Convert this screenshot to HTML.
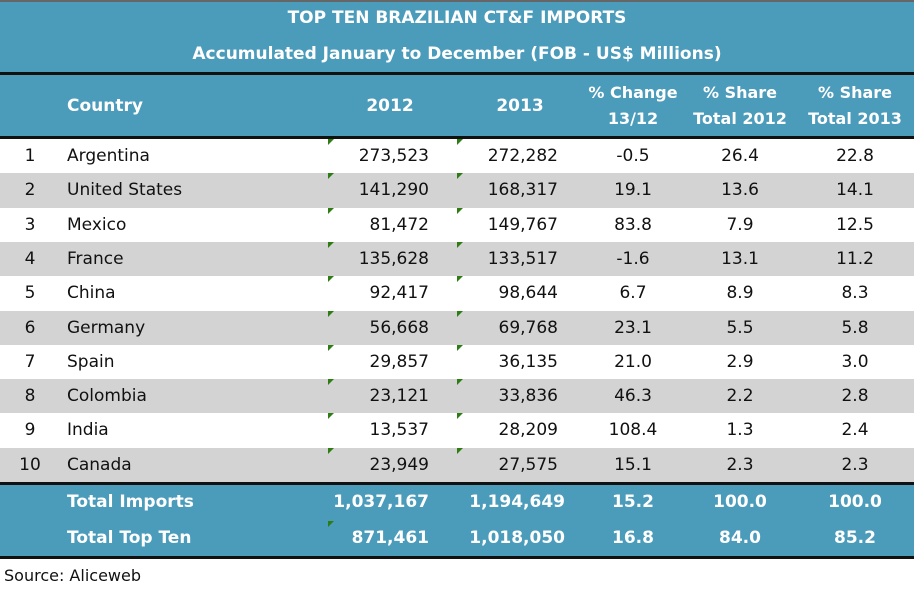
<!DOCTYPE html>
<html><head><meta charset="utf-8"><style>
body{margin:0;width:914px;height:593px;background:#fff;font-family:"DejaVu Sans","Liberation Sans",sans-serif;position:relative;overflow:hidden}
div{position:absolute;box-sizing:border-box}
.c{text-align:center}
.r{text-align:right}
.row{left:0;width:914px;height:34.3px;font-size:17px;color:#111;line-height:34px}
.t{color:#fff !important;font-weight:bold}
.tri{width:0;height:0;border-top:6px solid #2e7d13;border-right:6px solid transparent}
</style></head><body>
<div style="left:0;top:0;width:914px;height:2px;background:#666"></div>
<div style="left:0;top:2px;width:914px;height:72px;background:#4b9bbb"></div>
<div class="t c" style="left:0;top:8px;width:914px;font-size:17px">TOP TEN BRAZILIAN CT&amp;F IMPORTS</div>
<div class="t c" style="left:0;top:44px;width:914px;font-size:17px">Accumulated January to December (FOB - US$ Millions)</div>
<div style="left:0;top:72px;width:914px;height:3px;background:#111"></div>
<div style="left:0;top:75px;width:914px;height:62px;background:#4b9bbb"></div>
<div class="t" style="left:67px;top:96px;font-size:17px">Country</div>
<div class="t c" style="left:340px;top:96px;width:100px;font-size:17px">2012</div>
<div class="t c" style="left:470px;top:96px;width:100px;font-size:17px">2013</div>
<div class="t c" style="left:573px;top:80px;width:120px;font-size:16px;line-height:26px">% Change<br>13/12</div>
<div class="t c" style="left:680px;top:80px;width:120px;font-size:16px;line-height:26px">% Share<br>Total 2012</div>
<div class="t c" style="left:795px;top:80px;width:120px;font-size:16px;line-height:26px">% Share<br>Total 2013</div>
<div style="left:0;top:136px;width:914px;height:3px;background:#111"></div>
<div id="rows"></div>
<script>
var d=[["1","Argentina","273,523","272,282","-0.5","26.4","22.8"],["2","United States","141,290","168,317","19.1","13.6","14.1"],["3","Mexico","81,472","149,767","83.8","7.9","12.5"],["4","France","135,628","133,517","-1.6","13.1","11.2"],["5","China","92,417","98,644","6.7","8.9","8.3"],["6","Germany","56,668","69,768","23.1","5.5","5.8"],["7","Spain","29,857","36,135","21.0","2.9","3.0"],["8","Colombia","23,121","33,836","46.3","2.2","2.8"],["9","India","13,537","28,209","108.4","1.3","2.4"],["10","Canada","23,949","27,575","15.1","2.3","2.3"]];
var h="";
d.forEach(function(r,i){var y=139+i*34.3;
h+='<div class="row" style="top:'+y+'px;background:'+(i%2?'#d3d3d3':'#fff')+'">'+
'<div class="c" style="left:10px;width:40px">'+r[0]+'</div>'+
'<div style="left:67px">'+r[1]+'</div>'+
'<div class="r" style="left:300px;width:129px">'+r[2]+'</div>'+
'<div class="r" style="left:430px;width:128px">'+r[3]+'</div>'+
'<div class="c" style="left:573px;width:120px">'+r[4]+'</div>'+
'<div class="c" style="left:680px;width:120px">'+r[5]+'</div>'+
'<div class="c" style="left:795px;width:120px">'+r[6]+'</div>'+
'<div class="tri" style="left:328px;top:0"></div><div class="tri" style="left:457px;top:0"></div></div>';});
h+='<div style="left:0;top:482px;width:914px;height:3px;background:#111"></div>';
h+='<div style="left:0;top:485px;width:914px;height:71px;background:#4b9bbb"></div>';
var t=[["Total Imports","1,037,167","1,194,649","15.2","100.0","100.0"],["Total Top Ten","871,461","1,018,050","16.8","84.0","85.2"]];
t.forEach(function(r,i){var y=485+i*35.5;
h+='<div class="row t" style="top:'+y+'px;height:35px;line-height:34px">'+
'<div style="left:67px">'+r[0]+'</div>'+
'<div class="r" style="left:300px;width:129px">'+r[1]+'</div>'+
'<div class="r" style="left:430px;width:135px">'+r[2]+'</div>'+
'<div class="c" style="left:573px;width:120px">'+r[3]+'</div>'+
'<div class="c" style="left:680px;width:120px">'+r[4]+'</div>'+
'<div class="c" style="left:795px;width:120px">'+r[5]+'</div>'+
(i==1?'<div class="tri" style="left:328px;top:0"></div>':'')+'</div>';});
h+='<div style="left:0;top:556px;width:914px;height:3px;background:#111"></div>';
document.getElementById("rows").outerHTML=h;
</script>
<div style="left:4px;top:566px;font-size:16px;color:#111">Source: Aliceweb</div>
</body></html>
